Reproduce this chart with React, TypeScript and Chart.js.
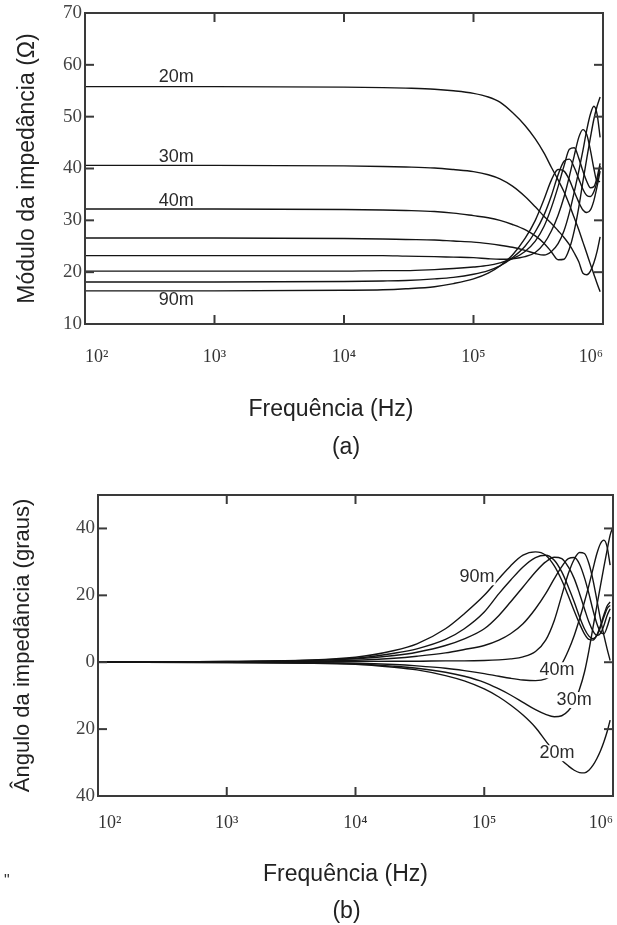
import React, { useEffect, useRef } from "react";
import { Chart, registerables } from "chart.js";
Chart.register(...registerables);

// ---------- DATA ----------
const freqs = [100, 1000, 10000, 20000, 30000, 50000, 70000, 100000, 130000, 160000, 200000, 250000, 300000, 350000, 400000, 450000, 500000, 550000, 600000, 650000, 700000, 750000, 800000, 850000, 900000, 950000, 1000000];

const cableLengths = ["20m", "30m", "40m", "50m", "60m", "70m", "80m", "90m"];

// |Z| (ohm)
const mag20m = [55.8, 55.8, 55.7, 55.6, 55.5, 55.3, 55.0, 54.5, 53.8, 52.8, 50.8, 48.3, 45.7, 43.0, 40.2, 37.8, 35.5, 33.0, 30.5, 28.2, 25.8, 23.6, 21.5, 19.6, 17.8, 16.2, null];
const mag30m = [40.6, 40.6, 40.5, 40.4, 40.3, 40.1, 39.8, 39.4, 38.8, 38.0, 36.6, 34.6, 32.6, 30.8, 29.4, 28.0, 26.7, 25.3, 23.7, 22.0, 19.8, 19.5, 20.2, 21.8, 24.0, 26.8, null];
const mag40m = [32.2, 32.2, 32.1, 32.0, 31.9, 31.7, 31.4, 30.9, 30.5, 30.0, 29.2, 28.2, 27.0, 25.6, 23.9, 22.4, 22.5, 24.5, 28.0, 32.5, 37.5, 42.0, 46.0, 49.5, 52.0, 53.8, null];
const mag50m = [26.6, 26.6, 26.5, 26.4, 26.3, 26.2, 26.0, 25.8, 25.5, 25.2, 24.8, 24.2, 23.6, 23.3, 24.0, 25.5, 28.0, 31.5, 35.5, 39.5, 43.5, 47.5, 50.5, 52.0, 50.5, 46.0, null];
const mag60m = [23.2, 23.2, 23.2, 23.2, 23.1, 23.0, 22.9, 22.8, 22.6, 22.5, 22.6, 23.0, 23.8, 25.5, 28.0, 31.0, 34.5, 38.5, 42.5, 46.0, 47.5, 46.5, 43.5, 40.0, 37.5, 37.5, null];
const mag70m = [20.2, 20.2, 20.2, 20.3, 20.3, 20.5, 20.7, 21.0, 21.3, 21.8, 22.6, 24.0, 26.0, 28.8, 32.5, 36.5, 40.5, 43.7, 44.0, 42.0, 39.5, 37.5, 36.3, 36.5, 38.3, 41.0, null];
const mag80m = [18.1, 18.1, 18.2, 18.3, 18.4, 18.7, 19.0, 19.6, 20.3, 21.2, 22.8, 25.0, 27.8, 31.0, 34.8, 38.8, 41.4, 41.8, 40.2, 38.0, 36.0, 34.8, 34.6, 35.5, 37.5, 40.5, null];
const mag90m = [16.4, 16.4, 16.5, 16.6, 16.8, 17.2, 17.8, 18.7, 19.8, 21.2, 23.3, 26.5, 30.0, 34.0, 37.8, 39.8, 39.5, 37.8, 35.5, 33.5, 32.0, 31.5, 32.0, 33.8, 36.5, 39.5, null];

// phase (degrees)
const ph20m = [0, -0.1, -0.6, -1.5, -2.3, -4.0, -5.6, -8.0, -10.4, -12.8, -15.8, -19.5, -23.5, -26.8, -29.3, -31.0, -32.3, -33.0, -33.1, -32.3, -30.8, -28.8, -26.5, -23.8, -20.8, -17.3, null];
const ph30m = [0, -0.1, -0.5, -1.2, -1.8, -3.0, -4.2, -6.0, -8.0, -9.8, -12.0, -14.2, -15.6, -16.3, -16.0, -14.5, -12.0, -8.0, -3.0, 3.5, 10.5, 17.0, 23.0, 28.5, 33.5, 38.0, 40.5];
const ph40m = [0, 0, -0.3, -0.7, -1.1, -1.8, -2.5, -3.4, -4.2, -4.8, -5.3, -5.5, -5.0, -3.2, -0.5, 3.5, 8.0, 13.0, 18.0, 23.0, 28.0, 32.5, 35.5, 36.5, 34.5, 29.0, null];
const ph50m = [0, 0, 0.2, 0.3, 0.3, 0.4, 0.4, 0.5, 0.7, 1.0, 1.6, 3.2, 6.6, 12.5, 20.0, 26.5, 30.8, 32.8, 32.5, 29.5, 24.5, 18.5, 12.8, 8.0, 4.0, 0.5, null];
const ph60m = [0, 0.1, 0.6, 1.2, 1.8, 2.8, 3.8, 5.0, 6.6, 8.5, 11.5, 16.0, 20.5, 25.0, 28.6, 31.0, 31.3, 29.3, 25.3, 20.5, 15.5, 11.5, 9.0, 8.5, 10.5, 13.5, null];
const ph70m = [0, 0.1, 1.0, 2.0, 3.0, 5.0, 7.0, 10.0, 14.0, 18.0, 22.5, 27.0, 30.0, 31.4, 31.0, 28.5, 25.0, 20.5, 16.0, 12.0, 9.3, 8.0, 8.6, 11.0, 14.0, 16.0, null];
const ph80m = [0, 0.2, 1.2, 2.7, 4.0, 6.8, 10.0, 15.0, 20.5, 24.5, 28.5, 31.3, 32.0, 30.5, 27.0, 22.5, 18.0, 13.5, 10.0, 7.8, 7.0, 8.0, 10.5, 13.5, 16.0, 17.0, null];
const ph90m = [0, 0.2, 1.5, 3.5, 5.5, 10.0, 14.5, 20.0, 25.0, 28.8, 32.0, 33.0, 32.0, 28.8, 24.5, 19.8, 15.3, 11.5, 8.5, 6.8, 6.6, 8.2, 11.0, 14.2, 16.8, 18.0, null];

const magSeries = [mag20m, mag30m, mag40m, mag50m, mag60m, mag70m, mag80m, mag90m];
const phaseSeries = [ph20m, ph30m, ph40m, ph50m, ph60m, ph70m, ph80m, ph90m];

const xTickValues = [100, 1000, 10000, 100000, 1000000];
const xTickLabels = ["10²", "10³", "10⁴", "10⁵", "10⁶"];
const magTickValues = [10, 20, 30, 40, 50, 60, 70];
const magTickLabels = ["10", "20", "30", "40", "50", "60", "70"];
const phaseTickValues = [-40, -20, 0, 20, 40];
const phaseTickLabels = ["40", "20", "0", "20", "40"];

const xAxisTitle = "Frequência (Hz)";
const magYTitle = "Módulo da impedância (Ω)";
const phaseYTitle = "Ângulo da impedância (graus)";
const magCaption = "(a)";
const phaseCaption = "(b)";

// curve labels: text at (frequency, value)
const magLabels = [
  { text: "20m", f: 506, v: 57.6 },
  { text: "30m", f: 506, v: 42.3 },
  { text: "40m", f: 506, v: 33.8 },
  { text: "90m", f: 506, v: 14.6 },
];
const phaseLabels = [
  { text: "90m", f: 88000, v: 25.4 },
  { text: "40m", f: 368000, v: -2.4 },
  { text: "30m", f: 499000, v: -11.3 },
  { text: "20m", f: 368000, v: -27.2 },
];

// ---------- STYLE ----------
const SANS = '"Liberation Sans", Arial, sans-serif';
const SERIF = '"Liberation Serif", "Times New Roman", serif';
const CLEAR = "rgba(0,0,0,0)";

const framePlugin = {
  id: "frame",
  afterDatasetsDraw(chart: any, _args: any, opts: any) {
    const { ctx, chartArea: a, scales } = chart;
    ctx.save();
    ctx.strokeStyle = "#3a3a3a";
    ctx.lineWidth = 2;
    ctx.strokeRect(a.left, a.top, a.right - a.left, a.bottom - a.top);
    const tl = 9;
    const seg = (x1: number, y1: number, x2: number, y2: number) => {
      ctx.beginPath();
      ctx.moveTo(x1, y1);
      ctx.lineTo(x2, y2);
      ctx.stroke();
    };
    for (const v of opts.yTicks) {
      const y = scales.y.getPixelForValue(v);
      if (y <= a.top + 2 || y >= a.bottom - 2) continue;
      seg(a.left, y, a.left + tl, y);
      seg(a.right, y, a.right - tl, y);
    }
    for (const v of opts.xTicks) {
      const x = scales.x.getPixelForValue(v);
      if (x <= a.left + 2 || x >= a.right - 2) continue;
      seg(x, a.top, x, a.top + tl);
      seg(x, a.bottom, x, a.bottom - tl);
    }
    // curve labels
    ctx.font = `18px ${SANS}`;
    ctx.textAlign = "center";
    ctx.textBaseline = "middle";
    for (const l of opts.labels) {
      const x = scales.x.getPixelForValue(l.f);
      const y = scales.y.getPixelForValue(l.v);
      if (opts.labelBg) {
        const w = ctx.measureText(l.text).width;
        ctx.fillStyle = "#ffffff";
        ctx.fillRect(x - w / 2 - 1, y - 8, w + 2, 16);
      }
      ctx.fillStyle = "#2a2a2a";
      ctx.fillText(l.text, x, y);
    }
    // x-axis title and caption (offsets relative to the plot centre / bottom)
    const cx = (a.left + a.right) / 2;
    ctx.font = `23px ${SANS}`;
    ctx.fillStyle = "#222";
    ctx.fillText(opts.xTitle, cx + opts.titleDx, a.bottom + opts.titleDy);
    ctx.fillText(opts.caption, cx + opts.capDx, a.bottom + opts.capDy);
    if (opts.extra) {
      ctx.font = `16px ${SANS}`;
      ctx.textAlign = "left";
      ctx.fillStyle = "#333";
      for (const e of opts.extra) ctx.fillText(e.text, e.px, e.py);
    }
    ctx.restore();
  },
};

function buildDatasets(series: (number | null)[][]) {
  return series.map((vals, i) => ({
    label: cableLengths[i],
    data: freqs
      .map((f, j) => ({ x: f, y: vals[j] }))
      .filter((p) => p.y !== null && p.y !== undefined),
    borderColor: "#141414",
    borderWidth: 1.4,
    pointRadius: 0,
    fill: false,
    cubicInterpolationMode: "monotone" as const,
  }));
}

function makeConfig(kind: "mag" | "phase") {
  const isMag = kind === "mag";
  const yVals = isMag ? magTickValues : phaseTickValues;
  const yLabels = isMag ? magTickLabels : phaseTickLabels;
  return {
    type: "line" as const,
    data: { datasets: buildDatasets(isMag ? magSeries : phaseSeries) },
    plugins: [framePlugin],
    options: {
      animation: false,
      responsive: false,
      maintainAspectRatio: false,
      layout: {
        padding: isMag
          ? { top: 13, right: 14, left: 0, bottom: 0 }
          : { top: 25, right: 4, left: 0, bottom: 0 },
      },
      plugins: {
        legend: { display: false },
        tooltip: { enabled: false },
        frame: {
          yTicks: yVals,
          xTicks: xTickValues,
          labels: isMag ? magLabels : phaseLabels,
          labelBg: !isMag,
          xTitle: xAxisTitle,
          caption: isMag ? magCaption : phaseCaption,
          titleDx: isMag ? -13 : -10,
          titleDy: isMag ? 86 : 79,
          capDx: isMag ? 2 : -9,
          capDy: isMag ? 124 : 116,
          extra: isMag ? null : [{ text: "\"", px: 4, py: 412 }],
        },
      },
      scales: {
        x: {
          type: "logarithmic",
          min: 100,
          max: 1000000,
          grid: {
            display: true,
            drawOnChartArea: false,
            drawTicks: true,
            tickLength: isMag ? 22 : 16,
            tickColor: CLEAR,
            color: CLEAR,
          },
          border: { display: false },
          afterBuildTicks: (s: any) => {
            s.ticks = xTickValues.map((v) => ({ value: v }));
          },
          afterFit: (s: any) => {
            s.height = isMag ? 146 : 144;
          },
          ticks: {
            autoSkip: false,
            maxRotation: 0,
            align: "inner",
            padding: 0,
            color: "#333",
            font: { family: SERIF, size: 18 },
            callback: (_v: any, i: number) => xTickLabels[i],
          },
          title: { display: false },
        },
        y: {
          type: "linear",
          min: isMag ? 10 : -40,
          max: isMag ? 70 : 50,
          grid: {
            display: true,
            drawOnChartArea: false,
            drawTicks: true,
            tickLength: 3,
            tickColor: CLEAR,
            color: CLEAR,
          },
          border: { display: false },
          afterBuildTicks: (s: any) => {
            s.ticks = yVals.map((v) => ({ value: v }));
          },
          afterFit: (s: any) => {
            s.width = isMag ? 85 : 98;
          },
          ticks: {
            padding: 0,
            color: "#444",
            font: { family: SERIF, size: 19 },
            callback: (_v: any, i: number) => yLabels[i],
          },
          title: {
            display: true,
            text: isMag ? magYTitle : phaseYTitle,
            color: "#222",
            font: { family: SANS, size: isMag ? 23 : 22 },
            padding: { top: isMag ? 14.2 : 9.8, bottom: 0 },
          },
        },
      },
    },
  };
}

function PlotCanvas({ kind, top }: { kind: "mag" | "phase"; top: number }) {
  const ref = useRef<HTMLCanvasElement | null>(null);
  useEffect(() => {
    if (!ref.current) return;
    const chart = new Chart(ref.current, makeConfig(kind) as any);
    return () => chart.destroy();
  }, [kind]);
  return (
    <canvas
      ref={ref}
      width={617}
      height={470}
      style={{ position: "absolute", left: 0, top, width: 617, height: 470, display: "block" }}
    />
  );
}

export default function App() {
  return (
    <div
      style={{
        position: "absolute",
        left: 0,
        top: 0,
        width: 617,
        height: 925,
        overflow: "hidden",
        background: "#ffffff",
      }}
    >
      <PlotCanvas kind="mag" top={0} />
      <PlotCanvas kind="phase" top={470} />
    </div>
  );
}
